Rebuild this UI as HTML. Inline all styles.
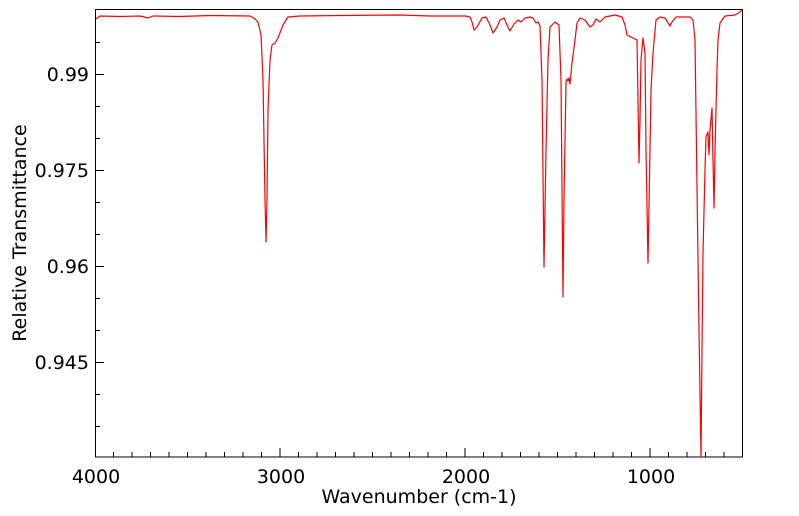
<!DOCTYPE html>
<html><head><meta charset="utf-8"><style>
body{margin:0;background:#fff;}
svg{display:block;font-family:"DejaVu Sans","Liberation Sans",sans-serif;}
</style></head><body>
<svg width="799" height="516" viewBox="0 0 799 516">
<rect x="0" y="0" width="799" height="516" fill="#fff"/>
<g stroke="#000" stroke-width="1" fill="none">
<rect x="95.5" y="9.5" width="647" height="447.5"/>
<path d="M113.5 457v-5M132 457v-5M150.5 457v-5M169 457v-5M187.5 457v-5M206 457v-5M224.5 457v-5M243 457v-5M261.5 457v-5M280 457v-9M298.5 457v-5M317 457v-5M335.5 457v-5M354 457v-5M372.5 457v-5M391 457v-5M409.5 457v-5M428 457v-5M446.5 457v-5M465 457v-9M483.5 457v-5M502 457v-5M520.5 457v-5M539 457v-5M557.5 457v-5M576 457v-5M594.5 457v-5M613 457v-5M631.5 457v-5M650 457v-9M668.5 457v-5M687 457v-5M705.5 457v-5M724 457v-5"/>
<path d="M95 42.5h5M95 74.5h9M95 106.5h5M95 138.5h5M95 170.5h9M95 202.5h5M95 234.5h5M95 266.5h9M95 298.5h5M95 330.5h5M95 362.5h9M95 394.5h5M95 426.5h5"/>
</g>
<clipPath id="c"><rect x="95" y="9" width="648" height="448"/></clipPath>
<polyline clip-path="url(#c)" fill="none" stroke="#ff0000" stroke-width="1.2" stroke-linejoin="round" points="96,19 100,16 120,16.5 140,16 148,18 153,16 180,16.5 210,15.5 250,16 255,19 258,22 261,35 263,80 265,200 266,242 267,200 268,110 270,60 272,45 275,43 278,38 283,25 288,17 300,16 340,15.5 400,15 430,16 465,16 470,17 472,22 474,30 477,27 482,18 486,17 490,25 493,33 497,27 500,20 504,18 507,25 510,31 514,24 518,20 521,22 525,18 530,17 533,18 536,23 538,22 540,26 542,80 544,267 546,150 548,60 550,27 555,22 559,25 561,80 563,297 564,200 566,82 567,79 568,81 569,78 570,84 572,63 575,40 577,23 580,18 585,20 590,27 593,25 596,19 600,22 605,17 615,15 622,17 625,25 627,35 633,38 637,40 638,100 639,163 640,120 641,60 643,38 645,53 646,150 648,263 650,150 651,90 653,53 656,20 660,17 665,18 670,26 672,22 676,17 690,17 693,20 695,40 697,187 699,330 701,457 702,350 703,253 705,170 706,137 708,132 709,155 710,130 712,108 713,160 714,208 715,153 716,110 717,70 718,40 720,23 725,16 735,15 740,12 742,10"/>
<g font-size="19" fill="#000">
<text x="96" y="483" text-anchor="middle">4000</text>
<text x="281" y="483" text-anchor="middle">3000</text>
<text x="466" y="483" text-anchor="middle">2000</text>
<text x="651" y="483" text-anchor="middle">1000</text>
<text x="89" y="81" text-anchor="end">0.99</text>
<text x="89" y="177" text-anchor="end">0.975</text>
<text x="89" y="273" text-anchor="end">0.96</text>
<text x="89" y="369" text-anchor="end">0.945</text>
<text x="419" y="503" text-anchor="middle">Wavenumber (cm-1)</text>
<text transform="translate(26,233) rotate(-90)" text-anchor="middle">Relative Transmittance</text>
</g>
</svg>
</body></html>
